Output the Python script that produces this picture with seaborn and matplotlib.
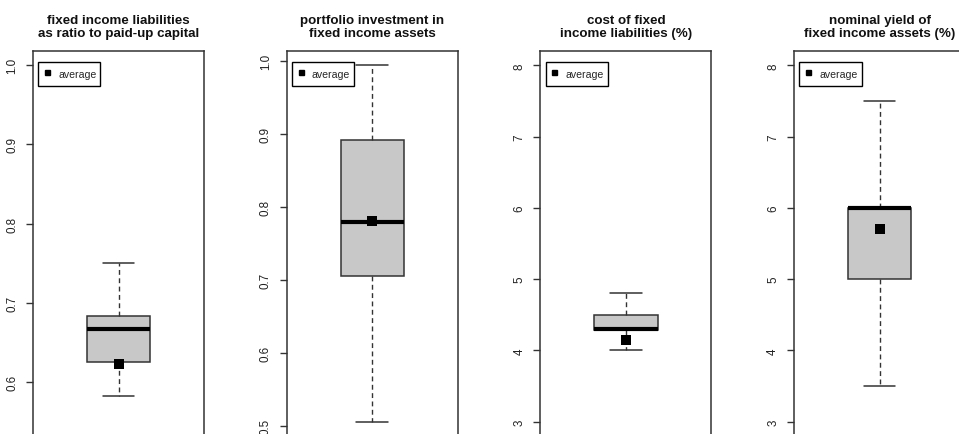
import numpy as np
import matplotlib
matplotlib.use("Agg")
import matplotlib.pyplot as plt
from matplotlib.lines import Line2D
import seaborn as sns

# Panel titles
titles = [
    "fixed income liabilities\nas ratio to paid-up capital",
    "portfolio investment in\nfixed income assets",
    "cost of fixed\nincome liabilities (%)",
    "nominal yield of\nfixed income assets (%)",
]

# Five-number summaries: minimum, lower quartile, median, upper quartile, maximum
liab_ratio = [0.582, 0.626, 0.667, 0.684, 0.751]
portfolio_share = [0.506, 0.706, 0.780, 0.892, 0.995]
liab_cost = [4.00, 4.29, 4.30, 4.50, 4.80]
asset_yield = [3.50, 5.00, 6.00, 6.00, 7.50]

# Averages
averages = [0.623, 0.781, 4.15, 5.71]

# Axis ranges and ticks
ylims = [(0.532, 1.018), (0.4868, 1.014), (2.8, 8.2), (2.8, 8.2)]
yticks = [
    [0.6, 0.7, 0.8, 0.9, 1.0],
    [0.5, 0.6, 0.7, 0.8, 0.9, 1.0],
    [3, 4, 5, 6, 7, 8],
    [3, 4, 5, 6, 7, 8],
]
ticklabels = [
    ["0.6", "0.7", "0.8", "0.9", "1.0"],
    ["0.5", "0.6", "0.7", "0.8", "0.9", "1.0"],
    ["3", "4", "5", "6", "7", "8"],
    ["3", "4", "5", "6", "7", "8"],
]

summaries = [liab_ratio, portfolio_share, liab_cost, asset_yield]

sns.set_style("ticks")
plt.rcParams["font.family"] = ["Liberation Sans", "DejaVu Sans"]

W, H = 959, 435
fig = plt.figure(figsize=(W / 100, H / 100), dpi=100)

edge = "#333333"
ax_left0, ax_step, ax_w = 33, 253.7, 171
ax_top, ax_bottom = 52, 437

for i in range(4):
    left = (ax_left0 + i * ax_step) / W
    bottom = 1 - ax_bottom / H
    height = (ax_bottom - ax_top) / H
    ax = fig.add_axes([left, bottom, ax_w / W, height])

    sns.boxplot(
        y=summaries[i], ax=ax, whis=np.inf, width=0.4,
        color="#c8c8c8", linecolor=edge, linewidth=1.1, saturation=1,
        medianprops=dict(linewidth=3.0, color="black"),
        whiskerprops=dict(linestyle=(0, (3.5, 2.5)), linewidth=1.0),
        capprops=dict(linewidth=1.1),
    )
    sns.scatterplot(
        x=[0], y=[averages[i]], ax=ax, marker="s", color="black",
        s=60, linewidth=0, zorder=5,
    )

    ax.set_xlim(-0.54, 0.54)
    ax.set_ylim(*ylims[i])
    ax.set_xticks([])
    ax.set_xlabel("")
    ax.set_ylabel("")
    ax.set_yticks(yticks[i])
    ax.set_yticklabels(ticklabels[i], rotation=90, va="center", fontsize=8.4,
                       color="#222222")
    ax.tick_params(axis="y", length=5.2, width=1.0, color=edge, pad=5.5)
    for sp in ax.spines.values():
        sp.set_visible(True)
        sp.set_color(edge)
        sp.set_linewidth(1.1)

    ax.set_title(titles[i], fontsize=9.6, fontweight="bold", pad=11,
                 linespacing=1.1, color="#111111")

    handle = Line2D([], [], marker="s", ls="", color="black", markersize=3.6)
    leg = ax.legend(
        [handle], ["average"], loc="upper left",
        bbox_to_anchor=(5.3 / ax_w, 1 - 11.3 / (ax_bottom - ax_top)),
        borderaxespad=0, fontsize=7.6, handlelength=0.9, handletextpad=0.6,
        handleheight=1.9, borderpad=0.38, fancybox=False, framealpha=1,
        edgecolor="black",
    )
    leg.get_frame().set_linewidth(1.0)

fig.savefig("out.png", dpi=100)
